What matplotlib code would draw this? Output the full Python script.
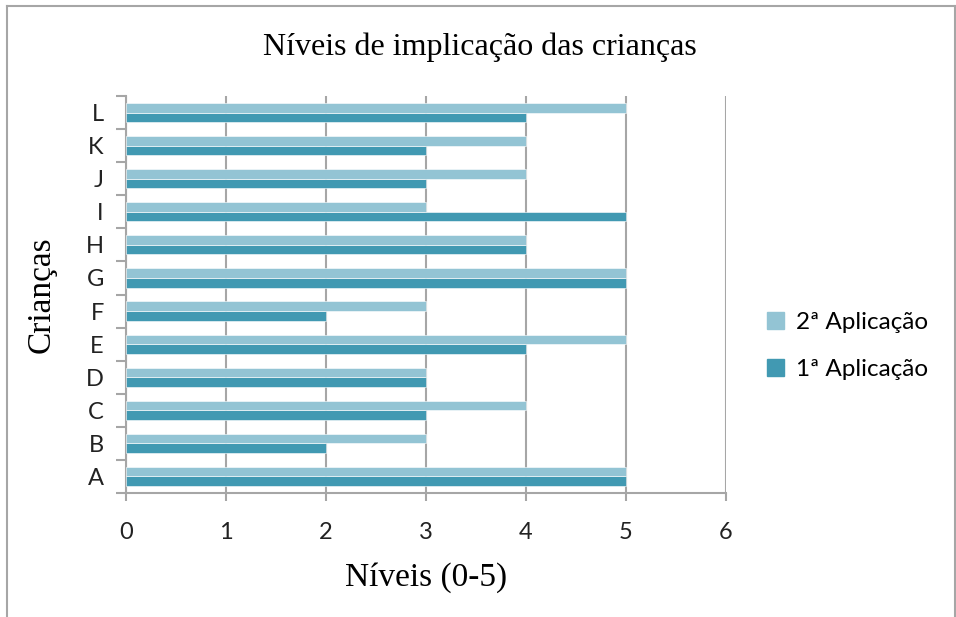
import matplotlib.pyplot as plt
import numpy as np
from matplotlib.lines import Line2D
from matplotlib.patches import Patch

CHILDREN = ["A", "B", "C", "D", "E", "F", "G", "H", "I", "J", "K", "L"]
APP1 = [5, 2, 3, 3, 4, 2, 5, 4, 5, 3, 3, 4]
APP2 = [5, 3, 4, 3, 5, 3, 5, 4, 3, 4, 4, 5]
XTICKS = [0, 1, 2, 3, 4, 5, 6]

LIGHT = "#93c4d4"
DARK = "#4199b2"
GRID = "#a6a6a6"
SANS = ["Lato", "DejaVu Sans"]
SERIF = ["Liberation Serif", "DejaVu Serif"]

fig = plt.figure(figsize=(9.56, 6.17), dpi=100)
ax = fig.add_axes([126 / 956, 1 - 493 / 617, (725.5 - 126) / 956, (493 - 96) / 617])

y = np.arange(len(CHILDREN))
h = 0.29
ax.barh(y - h / 2, APP1, height=h, color=DARK, edgecolor="white", linewidth=0.4, zorder=3, label="1ª Aplicação")
ax.barh(y + h / 2, APP2, height=h, color=LIGHT, edgecolor="white", linewidth=0.4, zorder=3, label="2ª Aplicação")

ax.set_xlim(0, 6)
ax.set_ylim(-0.5, len(CHILDREN) - 0.5)
ax.set_xticks(XTICKS)
ax.set_xticklabels([str(t) for t in XTICKS], fontfamily=SANS, fontsize=17, color="#222222")
ax.set_yticks(y)
ax.set_yticklabels(CHILDREN, fontfamily=SANS, fontsize=17, color="#222222")
ax.tick_params(axis="y", length=0, pad=16)
ax.tick_params(axis="x", length=6, width=1.5, color=GRID, pad=15)
# category boundary ticks on the y axis
ax.set_yticks(np.arange(-0.5, len(CHILDREN)), minor=True)
ax.tick_params(axis="y", which="minor", length=7, width=1.5, color=GRID)

ax.xaxis.grid(True, color=GRID, linewidth=1.5, zorder=0)
for s in ["top", "right"]:
    ax.spines[s].set_visible(False)
for s in ["left", "bottom"]:
    ax.spines[s].set_color(GRID)
    ax.spines[s].set_linewidth(1.5)

ax.set_xlabel("Níveis (0-5)", fontfamily=SERIF, fontsize=24, labelpad=14)
ax.set_ylabel("Crianças", fontfamily=SERIF, fontsize=24)
ax.yaxis.set_label_coords((57 - 126) / 599.5, 0.5)
fig.text(480 / 956, 1 - 47 / 617, "Níveis de implicação das crianças",
         ha="center", va="center", fontfamily=SERIF, fontsize=23)

handles = [Patch(color=LIGHT, label="2ª Aplicação"), Patch(color=DARK, label="1ª Aplicação")]
fig.legend(handles=handles, loc="center left", bbox_to_anchor=(745 / 956, 1 - 346 / 617),
           frameon=False, prop={"family": SANS, "size": 17.5}, handlelength=0.7, handleheight=0.7,
           handletextpad=0.5, labelspacing=1.1)

# outer chart border
for xs, ys in [((7, 7), (617, 6)), ((7, 955), (6, 6)), ((955, 955), (6, 617))]:
    fig.add_artist(Line2D([v / 956 for v in xs], [1 - v / 617 for v in ys], color=GRID, linewidth=1.5))

fig.savefig("out.png", dpi=100)
plt.close(fig)
